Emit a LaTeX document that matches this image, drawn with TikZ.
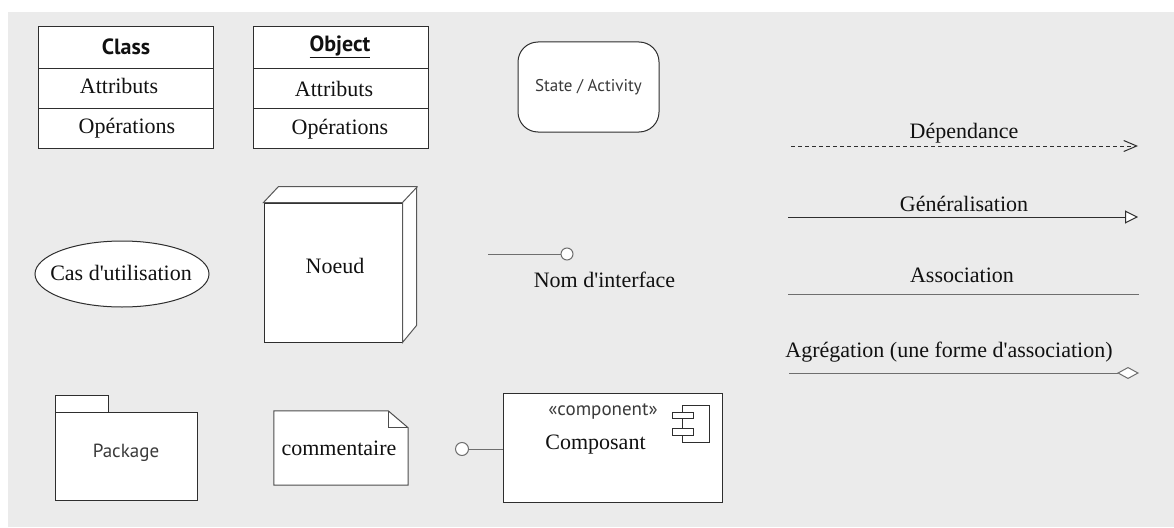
\documentclass[tikz,border=0pt]{standalone}
\usepackage{fontspec}
\setmainfont{Liberation Serif}[Ligatures=TeXOff]
\newfontfamily\uisans{PT Sans}
\usetikzlibrary{arrows.meta,shapes.geometric}
\definecolor{bg}{HTML}{EBEBEB}
\definecolor{ink}{HTML}{2E2E2E}
\definecolor{wire}{HTML}{6E6E6E}
\definecolor{txt}{HTML}{111111}
\definecolor{stxt}{HTML}{3A3A3A}
\tikzset{
  shapebox/.style={draw=ink,fill=white,line width=1pt,inner sep=0pt},
  serif/.style={font=\fontsize{22}{26}\selectfont,text=txt,inner sep=0pt},
  sans/.style={font=\uisans\fontsize{19}{22}\selectfont,text=stxt,inner sep=0pt},
  sansbold/.style={font=\uisans\bfseries\fontsize{22}{26}\selectfont,text=txt,inner sep=0pt},
  cell/.style={shapebox,minimum width=175pt},
  link/.style={line width=1pt,draw=ink},
  ball/.style={circle,draw=ink,fill=white,line width=1pt,minimum size=13pt,inner sep=0pt},
}
\begin{document}
\begin{tikzpicture}[x=1pt,y=-1pt]
\useasboundingbox (0,0) rectangle (1174,527);
\fill[bg] (8,12) rectangle (1174,527);

% class
\node[cell,minimum height=41pt] (clsname) at (125.5,47.5) {};
\node[cell,minimum height=40pt] (clsattr) at (125.5,88) {};
\node[cell,minimum height=40pt] (clsops)  at (125.5,128) {};
\node[sansbold] (clsnamet) at (126,47) {Class};
\node[serif] (clsattrt) at (119,86) {Attributs};
\node[serif] (clsopst)  at (127,128) {Opérations};

% object
\node[cell,minimum height=41pt] (objname) at (340.5,47.5) {};
\node[cell,minimum height=40pt] (objattr) at (340.5,88) {};
\node[cell,minimum height=40pt] (objops)  at (340.5,128) {};
\node[sansbold] (objnamet) at (340,47) {\underline{Object}};
\node[serif] (objattrt) at (334,89) {Attributs};
\node[serif] (objopst)  at (340,129) {Opérations};

% state / activity
\node[shapebox,rounded corners=20pt,minimum width=141pt,minimum height=90pt,
      sans,font=\uisans\fontsize{17}{20}\selectfont] (state) at (588.5,87) {State / Activity};

% use case
\node[ellipse,shapebox,minimum width=174pt,minimum height=66pt] (usecase) at (122,274) {};
\node[serif] (usecaset) at (121,273) {Cas d'utilisation};

% node (3D box)
\node[shapebox,minimum width=138pt,minimum height=139pt] (noeud) at (333,272.5) {};
\draw[shapebox,draw=ink!80] (noeud.north west) -- ++(15,-16) -- ++(138,0) -- ++(0,139)
  -- (noeud.south east) -- (noeud.north east) -- cycle;
\draw[line width=1pt,draw=ink!80] (noeud.north east) -- ++(15,-16);
\node[serif] (noeudt) at (335,266) {Noeud};

% interface
\coordinate (ifstart) at (488,254);
\node[ball,draw=wire,minimum size=12pt] (ifball) at (567,254) {};
\draw[link,draw=wire] (ifstart) -- (ifball);
\node[serif] (ift) at (604.5,280) {Nom d'interface};

% package
\node[shapebox,minimum width=53pt,minimum height=17pt] (pkgtab) at (81.5,403.5) {};
\node[shapebox,minimum width=142pt,minimum height=88pt] (pkg) at (126,456) {};
\node[sans] (pkgt) at (126,453) {Package};

% comment
\node[minimum width=134pt,minimum height=74pt,inner sep=0pt] (note) at (341,448) {};
\draw[shapebox,draw=ink!85] (note.north west) -- ([xshift=-20pt]note.north east)
  -- ([yshift=-17pt]note.north east) -- (note.south east) -- (note.south west) -- cycle;
\draw[line width=1pt,draw=ink!85] ([xshift=-20pt]note.north east) |- ([yshift=-17pt]note.north east);
\node[serif] (notet) at (339,448) {commentaire};

% component
\node[shapebox,minimum width=219pt,minimum height=109pt] (comp) at (612.5,447.5) {};
\node[sans] (compst) at (603,411) {«component»};
\node[serif] (compt) at (595.5,445) {Composant};
\draw[line width=1pt,draw=ink] (682,405) rectangle (709,442);
\draw[line width=1pt,draw=ink,fill=white] (672,412) rectangle (693,418);
\draw[line width=1pt,draw=ink,fill=white] (672,428) rectangle (693,435);
\node[ball,draw=wire] (compball) at (462,449) {};
\draw[link,draw=wire] (compball) -- (comp.west |- compball);

% relationships
\coordinate (depA) at (791,146);  \coordinate (depB) at (1138,146);
\draw[link,dash pattern=on 4pt off 3pt,-{Straight Barb[length=13pt,width=11pt]}] (depA) -- (depB);
\node[serif] (dept) at (964,133) {Dépendance};

\coordinate (genA) at (788,217);  \coordinate (genB) at (1138,217);
\draw[link,-{Triangle[length=13pt,width=13pt,fill=white]}] (genA) -- (genB);
\node[serif] (gent) at (964,204) {Généralisation};

\coordinate (assA) at (788,294);  \coordinate (assB) at (1139,294);
\draw[link,draw=wire] (assA) -- (assB);
\node[serif] (asst) at (962,275) {Association};

\coordinate (aggA) at (789,373);  \coordinate (aggB) at (1139,373);
\draw[link,draw=wire,-{Diamond[length=22pt,width=12pt,fill=white]}] (aggA) -- (aggB);
\node[serif] (aggt) at (949,352) {Agrégation (une forme d'association)};
\end{tikzpicture}
\end{document}
